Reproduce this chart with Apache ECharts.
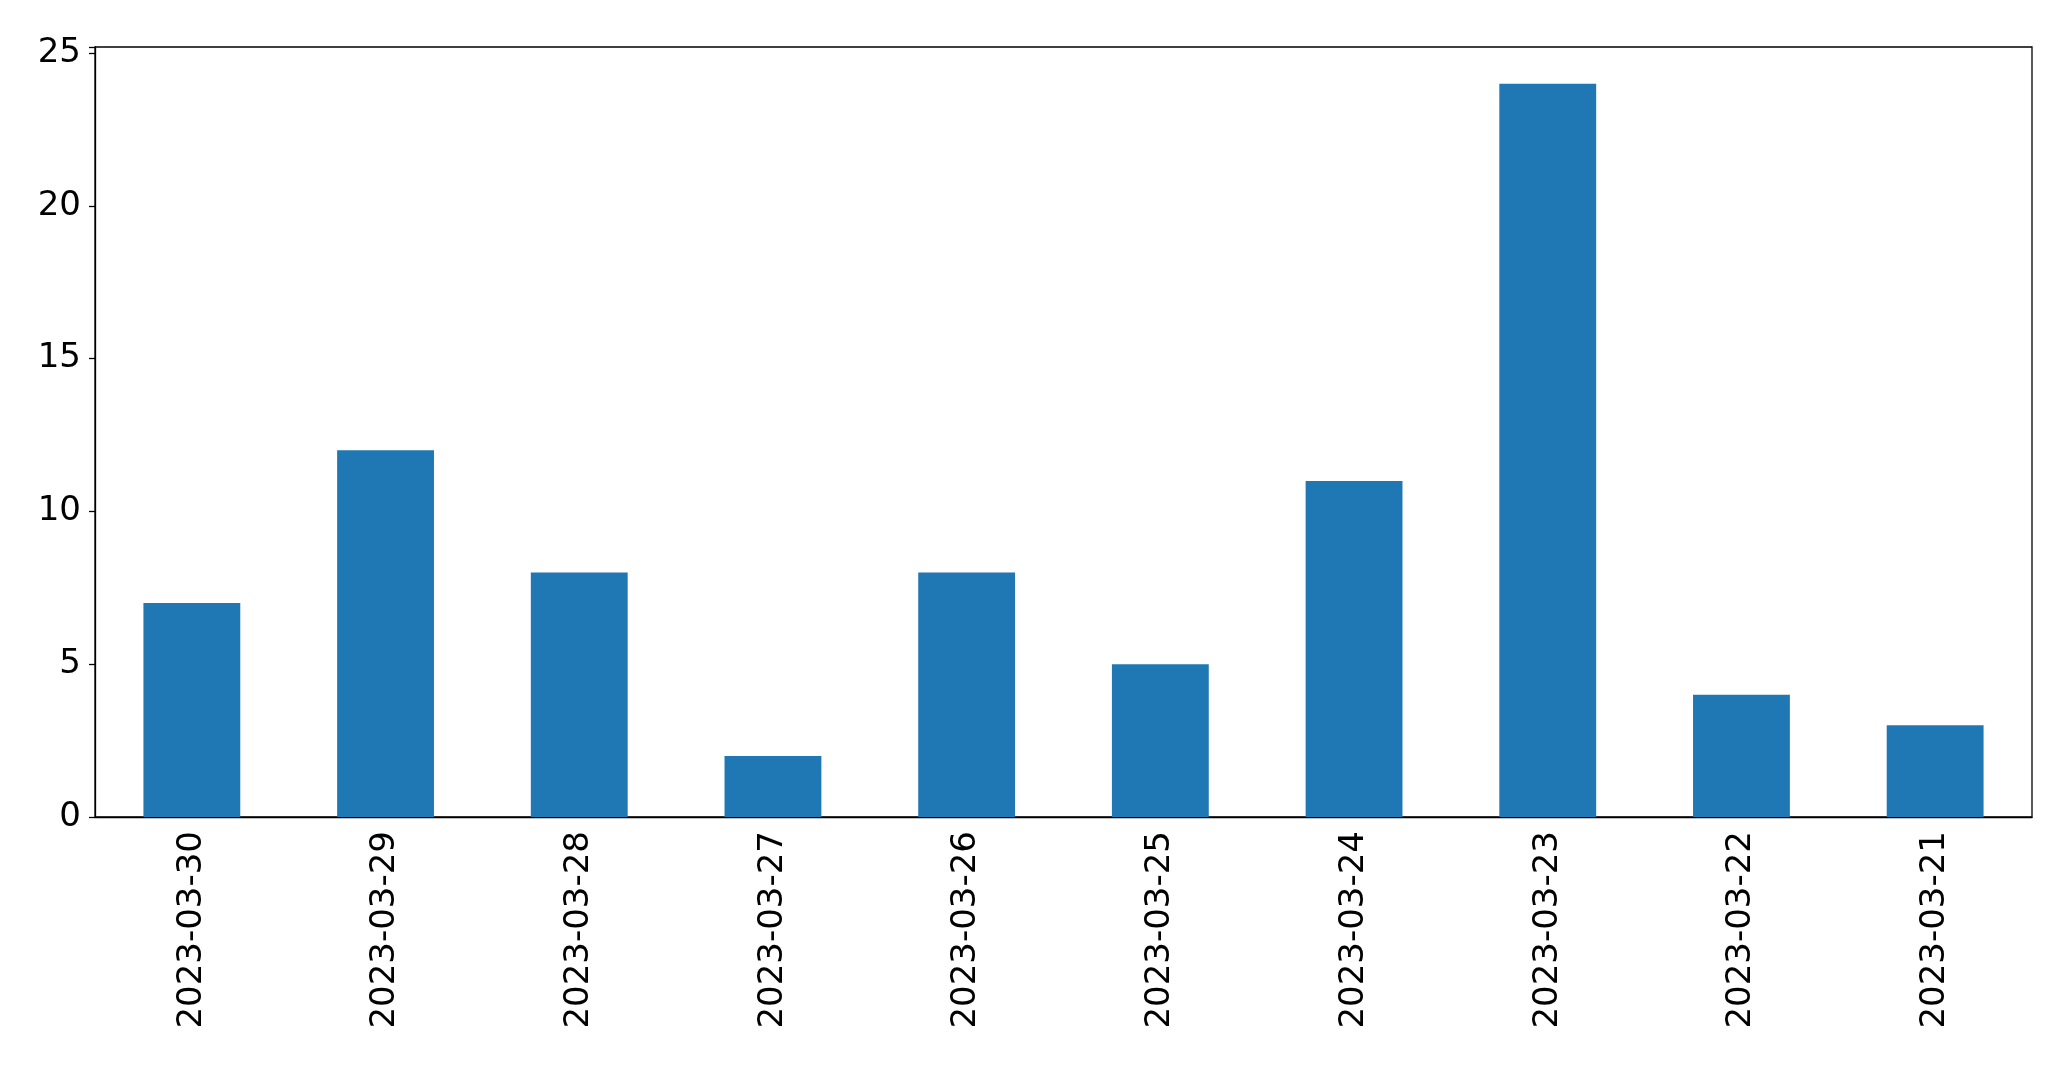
<!DOCTYPE html>
<html>
<head>
<meta charset="utf-8">
<script src="https://cdn.jsdelivr.net/npm/echarts@6/dist/echarts.min.js"></script>
<style>
html, body { margin: 0; padding: 0; background: #fff; }
#chart { width: 2071px; height: 1069px; }
</style>
</head>
<body>
<div id="chart"></div>
<script>
var dates = ["2023-03-30", "2023-03-29", "2023-03-28", "2023-03-27", "2023-03-26",
    "2023-03-25", "2023-03-24", "2023-03-23", "2023-03-22", "2023-03-21"];
var counts = [7, 12, 8, 2, 8, 5, 11, 24, 4, 3];
var yTicks = [0, 5, 10, 15, 20, 25];

var font = "DejaVu Sans";
var option = {
    animation: false,
    backgroundColor: "#fff",
    grid: {
        show: true,
        left: 95,
        right: 39,
        top: 47,
        bottom: 252,
        borderColor: "#000",
        borderWidth: 1.3,
        containLabel: false
    },
    xAxis: {
        type: "category",
        data: dates,
        axisLine: { lineStyle: { color: "#000", width: 1.3 } },
        axisTick: { alignWithLabel: true, length: 6, lineStyle: { color: "#000", width: 1.3 } },
        axisLabel: {
            rotate: 90,
            margin: 14,
            color: "#000",
            fontFamily: font,
            fontSize: 34,
            interval: 0
        }
    },
    yAxis: {
        type: "value",
        min: 0,
        max: 25.2,
        interval: 5,
        axisLine: { show: true, lineStyle: { color: "#000", width: 1.3 } },
        axisTick: { show: true, length: 6, lineStyle: { color: "#000", width: 1.3 } },
        splitLine: { show: false },
        axisLabel: {
            margin: 14,
            color: "#000",
            fontFamily: font,
            fontSize: 34,
            formatter: function (v) {
                return yTicks.indexOf(v) >= 0 ? String(v) : "";
            }
        }
    },
    series: [{
        type: "bar",
        data: counts,
        barWidth: "50%",
        itemStyle: { color: "#1f77b4" }
    }]
};
echarts.init(document.getElementById("chart")).setOption(option);
</script>
</body>
</html>
